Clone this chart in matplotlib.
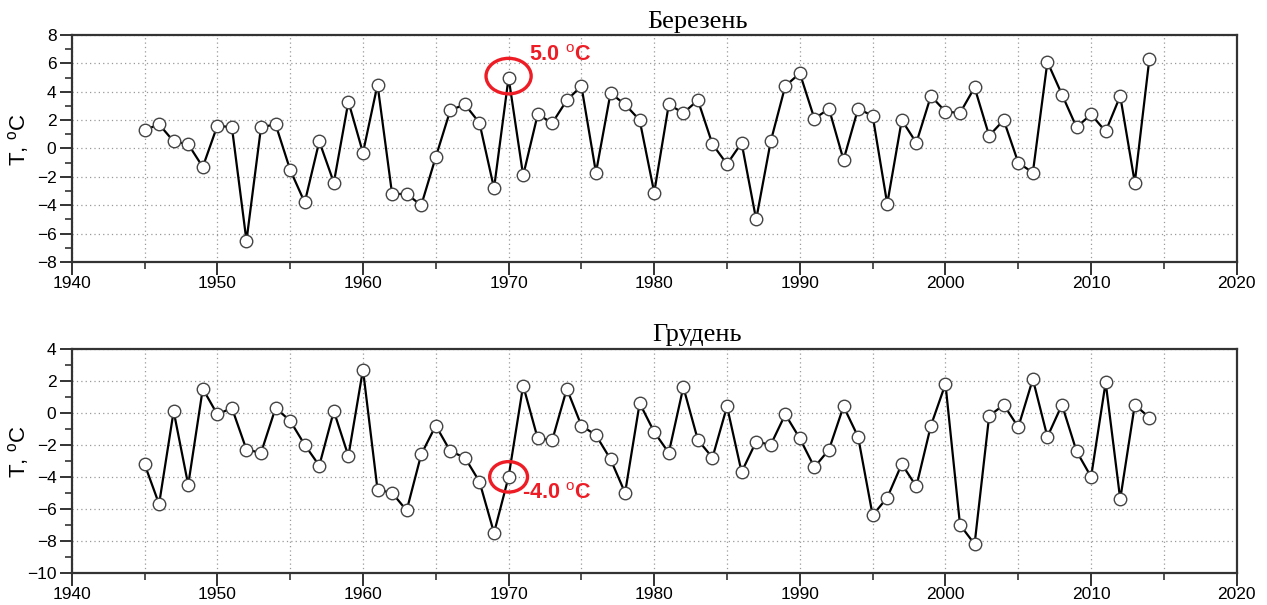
import matplotlib
matplotlib.use("Agg")
import matplotlib.pyplot as plt
from matplotlib.patches import Ellipse
from matplotlib.ticker import MultipleLocator

years = list(range(1945, 2015))

march = [1.3, 1.7, 0.5, 0.3, -1.3, 1.6, 1.5, -6.5, 1.5, 1.7,
         -1.5, -3.8, 0.5, -2.4, 3.3, -0.3, 4.5, -3.2, -3.2, -4.0,
         -0.6, 2.7, 3.1, 1.8, -2.8, 5.0, -1.9, 2.4, 1.8, 3.4,
         4.4, -1.7, 3.9, 3.1, 2.0, -3.1, 3.1, 2.5, 3.4, 0.3,
         -1.1, 0.4, -5.0, 0.5, 4.4, 5.3, 2.1, 2.8, -0.8, 2.8,
         2.3, -3.9, 2.0, 0.4, 3.7, 2.6, 2.5, 4.3, 0.9, 2.0,
         -1.0, -1.7, 6.1, 3.8, 1.5, 2.4, 1.2, 3.7, -2.4, 6.3]

december = [-3.2, -5.7, 0.1, -4.5, 1.5, -0.1, 0.3, -2.3, -2.5, 0.3,
            -0.5, -2.0, -3.3, 0.1, -2.7, 2.7, -4.8, -5.0, -6.1, -2.6,
            -0.8, -2.4, -2.8, -4.3, -7.5, -4.0, 1.7, -1.6, -1.7, 1.5,
            -0.8, -1.4, -2.9, -5.0, 0.6, -1.2, -2.5, 1.6, -1.7, -2.8,
            0.4, -3.7, -1.8, -2.0, -0.1, -1.6, -3.4, -2.3, 0.4, -1.5,
            -6.4, -5.3, -3.2, -4.6, -0.8, 1.8, -7.0, -8.2, -0.2, 0.5,
            -0.9, 2.1, -1.5, 0.5, -2.4, -4.0, 1.9, -5.4, 0.5, -0.3]

titles = ["Березень", "Грудень"]
ylabel = "T, $^{\\rm o}$C"
x_range = (1940, 2020)
y_ranges = [(-8, 8), (-10, 4)]
highlight_year = 1970
highlight_labels = ["5.0 $^{\\rm o}$C", "-4.0 $^{\\rm o}$C"]

plt.rcParams['font.family'] = ['Liberation Sans', 'DejaVu Sans']
plt.rcParams['mathtext.fontset'] = 'custom'
plt.rcParams['mathtext.rm'] = 'Liberation Sans'
plt.rcParams['mathtext.bf'] = 'Liberation Sans:bold'

fig = plt.figure(figsize=(12.67, 6.05), dpi=100)
ax_top = fig.add_axes([0.0566, 0.5668, 0.9195, 0.3755])
ax_bot = fig.add_axes([0.0566, 0.0530, 0.9195, 0.3706])

spine_col = '#333333'
red = '#ee1c25'

for ax, vals, title, yr, lab, i in zip([ax_top, ax_bot], [march, december], titles,
                                     y_ranges, highlight_labels, [0, 1]):
    ax.plot(years, vals, color='black', lw=1.6, marker='o', ms=9,
            mfc='white', mec='#444444', mew=1.0, zorder=3)
    ax.set_xlim(*x_range)
    ax.set_ylim(*yr)
    ax.xaxis.set_major_locator(MultipleLocator(10))
    ax.xaxis.set_minor_locator(MultipleLocator(5))
    ax.yaxis.set_major_locator(MultipleLocator(2))
    ax.yaxis.set_minor_locator(MultipleLocator(1))
    ax.grid(True, which='major', axis='both', ls=(0, (1, 2.5)), color='#999999', lw=0.9)
    ax.grid(True, which='minor', axis='x', ls=(0, (1, 2.5)), color='#999999', lw=0.9)
    for s in ax.spines.values():
        s.set_color(spine_col)
        s.set_linewidth(1.6)
    ax.tick_params(which='major', direction='out', length=9, width=1.4,
                   color=spine_col, labelsize=12.5, pad=2)
    ax.tick_params(which='minor', direction='out', length=5, width=1.2, color=spine_col)
    ax.tick_params(axis='y', which='both', right=False)
    ax.tick_params(axis='x', which='major', pad=1)
    ax.set_ylabel(ylabel, fontsize=16)
    ax.yaxis.set_label_coords(-0.035, 0.54)
    ax.text(0.537, 1.01, title, transform=ax.transAxes, ha='center', va='bottom',
            fontsize=19, family=['Liberation Serif', 'DejaVu Serif'])

    idx = years.index(highlight_year)
    yv = vals[idx]
    if i == 0:
        ell = Ellipse((highlight_year, yv + 0.1), 3.1, 2.5, fill=False,
                      ec=red, lw=2.4, zorder=5)
        ax.add_patch(ell)
        ax.annotate(lab, (highlight_year, yv), xytext=(15, 16),
                    textcoords='offset points', color=red, fontsize=15.5,
                    fontweight='bold', ha='left', va='center')
    else:
        ell = Ellipse((highlight_year, yv), 2.6, 1.9, fill=False,
                      ec=red, lw=2.4, zorder=5)
        ax.add_patch(ell)
        ax.annotate(lab, (highlight_year, yv), xytext=(10, -12),
                    textcoords='offset points', color=red, fontsize=15.5,
                    fontweight='bold', ha='left', va='center')

fig.savefig('out.png', dpi=100)
